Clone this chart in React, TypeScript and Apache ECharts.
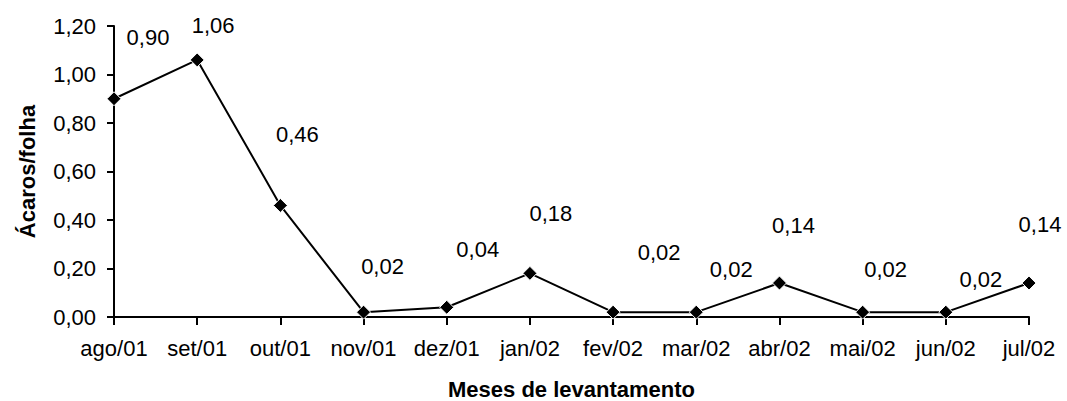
import React, { useEffect, useRef } from "react";
import * as echarts from "echarts";

const categories = ["ago/01", "set/01", "out/01", "nov/01", "dez/01", "jan/02", "fev/02", "mar/02", "abr/02", "mai/02", "jun/02", "jul/02"];
const values = [0.9, 1.06, 0.46, 0.02, 0.04, 0.18, 0.02, 0.02, 0.14, 0.02, 0.02, 0.14];
const labelOffsets = [[34, -61], [16, -34], [17, -71], [19, -46], [31, -58], [21, -60], [46, -60], [35, -43], [14, -58], [23, -43], [35, -33], [11, -59]];

const FONT = "Liberation Sans, Arial, sans-serif";
const fmt = (v: number) => v.toFixed(2).replace(".", ",");

export default function App() {
  const ref = useRef<HTMLDivElement>(null);
  useEffect(() => {
    const chart = echarts.init(ref.current!, undefined, { renderer: "svg" });
    chart.setOption({
      animation: false,
      backgroundColor: "#ffffff",
      grid: { left: 114, right: 38, top: 26, bottom: 84, containLabel: false, outerBoundsMode: "none" },
      xAxis: {
        type: "category",
        data: categories,
        boundaryGap: false,
        name: "Meses de levantamento",
        nameLocation: "middle",
        nameGap: 61,
        nameTextStyle: { fontFamily: FONT, fontSize: 22, fontWeight: "bold", color: "#000" },
        axisLine: { lineStyle: { color: "#000", width: 2 } },
        axisTick: { alignWithLabel: true, length: 8, lineStyle: { color: "#000", width: 2 } },
        axisLabel: { fontFamily: FONT, fontSize: 22, color: "#000", margin: 20, interval: 0 },
        splitLine: { show: false },
      },
      yAxis: {
        type: "value",
        min: 0,
        max: 1.2,
        interval: 0.2,
        name: "Ácaros/folha",
        nameLocation: "middle",
        nameGap: 76,
        nameTextStyle: { fontFamily: FONT, fontSize: 22, fontWeight: "bold", color: "#000" },
        axisLine: { show: true, lineStyle: { color: "#000", width: 2 } },
        axisTick: { show: true, length: 7, lineStyle: { color: "#000", width: 2 } },
        axisLabel: { fontFamily: FONT, fontSize: 22, color: "#000", margin: 18, formatter: (v: number) => fmt(v) },
        splitLine: { show: false },
      },
      series: [
        {
          type: "line",
          data: values.map((v, i) => ({
            value: v,
            label: { offset: labelOffsets[i] },
          })),
          symbol: "diamond",
          symbolSize: 14,
          itemStyle: { color: "#000", borderColor: "#fff", borderWidth: 1 },
          lineStyle: { color: "#000", width: 2 },
          label: {
            show: true,
            position: "inside",
            fontFamily: FONT,
            fontSize: 22,
            color: "#000",
            formatter: (p: any) => fmt(p.value),
          },
        },
      ],
    });
    return () => chart.dispose();
  }, []);
  return <div ref={ref} style={{ width: 1067, height: 401, position: "absolute", left: 0, top: 0 }} />;
}
